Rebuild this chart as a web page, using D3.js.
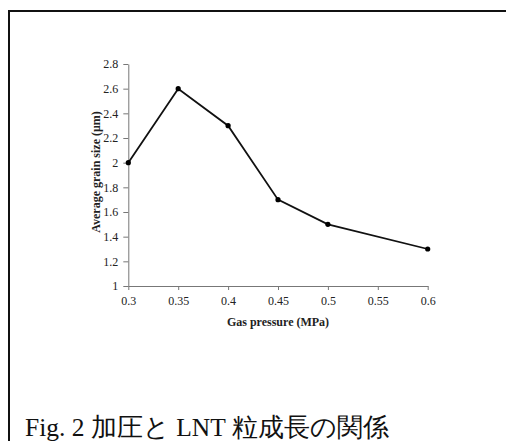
<!DOCTYPE html>
<html><head><meta charset="utf-8">
<script src="https://cdn.jsdelivr.net/npm/d3@7/dist/d3.min.js"></script>
<style>
html,body{margin:0;padding:0;background:#fff;}
svg{display:block;}
</style></head>
<body>
<svg id="c" width="506" height="441"></svg>
<script>
const pressures = [0.3, 0.35, 0.4, 0.45, 0.5, 0.6];
const grainSizes = [2.0, 2.6, 2.3, 1.7, 1.5, 1.3];
const xTicks = [0.3, 0.35, 0.4, 0.45, 0.5, 0.55, 0.6];
const yTicks = [1, 1.2, 1.4, 1.6, 1.8, 2, 2.2, 2.4, 2.6, 2.8];
const xTitle = "Gas pressure (MPa)";
const yTitle = "Average grain size (μm)";
const caption = "Fig. 2 加圧と LNT 粒成長の関係";

const svg = d3.select("#c");
const serif = "Liberation Serif";

// frame
svg.append("path").attr("d","M9,445 V11 H510").attr("fill","none").attr("stroke","#111").attr("stroke-width",2);

const x = d3.scaleLinear().domain([0.3,0.6]).range([128.3,427.7]);
const y = d3.scaleLinear().domain([1,2.8]).range([286,64]);

const fmt = d => String(+d.toFixed(2));

const gx = svg.append("g").attr("transform","translate(0,286)")
  .call(d3.axisBottom(x).tickValues(xTicks).tickFormat(fmt).tickSize(4).tickSizeOuter(0));
const gy = svg.append("g").attr("transform","translate(128.3,0)")
  .call(d3.axisLeft(y).tickValues(yTicks).tickFormat(fmt).tickSize(5).tickSizeOuter(0));
[gx,gy].forEach(g=>{
  g.attr("font-family",serif).attr("font-size",12);
  g.select(".domain").attr("stroke","#777");
  g.selectAll(".tick line").attr("stroke","#777");
  g.selectAll(".tick text").attr("fill","#222");
});
gx.selectAll(".tick text").attr("dy","0.71em").attr("y",10);
gy.selectAll(".tick text").attr("x",-10);

const pts = pressures.map((p,i)=>[p,grainSizes[i]]);
svg.append("path").datum(pts)
  .attr("d", d3.line().x(d=>x(d[0])).y(d=>y(d[1])))
  .attr("fill","none").attr("stroke","#111").attr("stroke-width",1.8);
svg.selectAll("circle.pt").data(pts).enter().append("circle")
  .attr("cx",d=>x(d[0])).attr("cy",d=>y(d[1])).attr("r",2.6).attr("fill","#000");

svg.append("text").attr("x",278).attr("y",326).attr("text-anchor","middle")
  .attr("font-family",serif).attr("font-size",12).attr("font-weight","bold").attr("fill","#222")
  .text(xTitle);
svg.append("text").attr("transform","translate(100,172) rotate(-90)").attr("text-anchor","middle")
  .attr("font-family",serif).attr("font-size",12).attr("font-weight","bold").attr("fill","#222")
  .text(yTitle);

svg.append("text").attr("x",25).attr("y",436)
  .attr("font-family",serif).attr("font-size",25.5).attr("fill","#111")
  .text(caption);
</script>
</body></html>
